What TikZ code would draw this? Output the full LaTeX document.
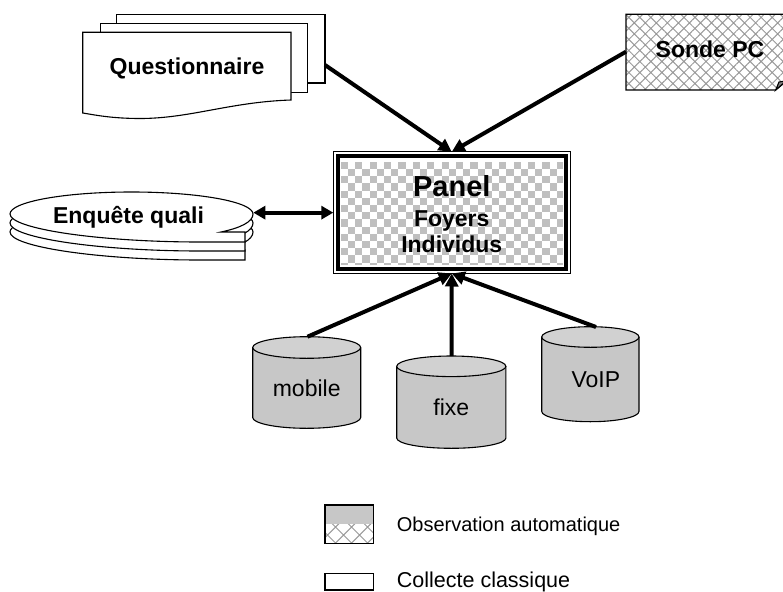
\documentclass[tikz,border=0pt]{standalone}
\usepackage{fontspec}
\setmainfont{Liberation Sans}
\usetikzlibrary{arrows.meta,patterns.meta}
\definecolor{cylgray}{gray}{0.78}
\definecolor{cyltop}{gray}{0.82}
\definecolor{chkgray}{gray}{0.75}
\definecolor{hatchgray}{gray}{0.60}
\tikzset{
  shp/.style={draw=black,line width=1.1pt},
  arr/.style={line width=4pt,-{Triangle[length=13pt,width=13pt]}},
  darr/.style={line width=4pt,{Triangle[length=12pt,width=13pt]}-{Triangle[length=12pt,width=13pt]}},
  bigtxt/.style={font=\fontsize{23}{26}\selectfont\bfseries,inner sep=0pt,anchor=base},
  cyltxt/.style={font=\fontsize{23}{26}\selectfont,inner sep=0pt,anchor=base},
  legtxt/.style={font=\fontsize{20}{22}\selectfont,inner sep=0pt,anchor=base west},
  hatchfine/.style={pattern={Hatch[angle=45,distance=7.8pt,line width=1pt]},pattern color=hatchgray},
  hatchbig/.style={pattern={Hatch[angle=45,distance=11.3pt,line width=1pt]},pattern color=hatchgray},
}
\newcommand\mycyl[6]{%
  \draw[shp,fill=cylgray] ({#2-#3},#4) -- ({#2-#3},#5)
    .. controls ({#2-#3},{#5+0.5523*#6}) and ({#2-0.5523*#3},{#5+#6}) .. (#2,{#5+#6})
    .. controls ({#2+0.5523*#3},{#5+#6}) and ({#2+#3},{#5+0.5523*#6}) .. ({#2+#3},#5)
    -- ({#2+#3},#4);
  \draw[shp,fill=cyltop] (#2,#4) ellipse [x radius=#3, y radius=#6];
}
\begin{document}
\begin{tikzpicture}[x=1pt,y=-1pt]
\useasboundingbox (0,0) rectangle (783,591);
\clip (0,0) rectangle (783,591);

% Questionnaire (multi-document)
\draw[shp,fill=white] (116.7,14.3) rectangle (325,83);
\draw[shp,fill=white] (100.7,23.3) rectangle (307.3,92.7);
\draw[shp,fill=white] (82.7,32.3) -- (291,32.3) -- (291,100)
  .. controls (230,102) and (190,118.5) .. (140,118.5)
  .. controls (112,118.5) and (95,115) .. (82.7,113) -- cycle;
\node[bigtxt] (quest) at (187,75) {Questionnaire};
\coordinate (questR) at (325,65);

% Sonde PC (note shape, cut at the right border)
\draw[shp,hatchfine] (626,14.3) -- (800,14.3) -- (800,70) -- (775.7,90) -- (626,90) -- cycle;
\filldraw[shp,fill=gray] (775.7,90) -- (786,81) -- (779,82) -- cycle;
\node[bigtxt] (sonde) at (710,57.3) {Sonde PC};
\coordinate (sondeL) at (626,51.7);

% Enquete quali (stacked ellipses)
\foreach \yc in {232,223,214}{
  \draw[shp,fill=white] (10,\yc)
    .. controls (10,{\yc-12.15}) and (64.4,{\yc-22}) .. (131.5,{\yc-22})
    .. controls (198.6,{\yc-22}) and (253,{\yc-12.15}) .. (253,\yc)
    .. controls (253,{\yc+8}) and (240,{\yc+14}) .. (221,{\yc+18})
    -- (245,{\yc+18}) -- (245,{\yc+28}) -- (200,{\yc+28})
    .. controls (100,{\yc+28}) and (10,{\yc+15}) .. (10,\yc) -- cycle;
}
\node[bigtxt] (enq) at (128.5,223.3) {Enquête quali};
\coordinate (enqR) at (253.3,212.65);

% Panel
\fill[white] (337,156) rectangle (566,269);
\begin{scope}
\clip (340.7,161.7) rectangle (562.8,264.6);
\foreach \i in {0,...,31}{
  \pgfmathtruncatemacro\off{mod(\i,2)}
  \foreach \j in {0,...,7}{
    \fill[chkgray] ({340.7+\i*7.2},{161.7+(2*\j+\off)*7.2}) rectangle ++(7.2,7.2);
  }
}
\end{scope}
\node[minimum width=236.5pt,minimum height=121.3pt,inner sep=0pt] (panel) at (451.75,212.65) {};
\draw[line width=1pt] (panel.north west) rectangle (panel.south east);
\draw[line width=4pt] ([xshift=4.3pt,yshift=-4.3pt]panel.north west) rectangle ([xshift=-4.3pt,yshift=4.3pt]panel.south east);
\node[font=\fontsize{29}{30}\selectfont\bfseries,inner sep=0pt,anchor=base] (ptitle) at (451.75,196.7) {Panel};
\node[bigtxt] (pfoy) at (451.75,226) {Foyers};
\node[bigtxt] (pind) at (451.75,252.7) {Individus};

% Cylinders
\mycyl{mob}{306.7}{54}{347.5}{417.5}{10.8}
\node[cyltxt] (mobtxt) at (306.7,396.7) {mobile};
\coordinate (mobT) at (307.5,336.7);
\mycyl{fix}{451.3}{54.6}{366.3}{438}{10.3}
\node[cyltxt] (fixtxt) at (451.3,415) {fixe};
\coordinate (fixT) at (451.5,356);
\mycyl{voip}{590.35}{48.65}{337}{411.4}{10.3}
\node[cyltxt] (voiptxt) at (595.8,387.7) {VoIP};
\coordinate (voipT) at (596,327);

% Connectors
\draw[arr] (questR) -- (panel.north);
\draw[arr] (sondeL) -- (panel.north);
\draw[darr] (enqR) -- (panel.west);
\draw[arr] (mobT) -- (panel.south);
\draw[arr] (fixT) -- (panel.south);
\draw[arr] (voipT) -- (panel.south);

% Legend
\fill[cylgray] (325,505) rectangle (373.3,524);
\fill[hatchbig] (325,524) rectangle (373.3,543.3);
\draw[shp] (325,505) rectangle (373.3,543.3);
\node[legtxt] (leg1) at (396.7,531.7) {Observation automatique};
\draw[shp,fill=white] (325,573.3) rectangle (373.3,590);
\node[legtxt,font=\fontsize{21.5}{24}\selectfont] (leg2) at (396.7,587) {Collecte classique};
\end{tikzpicture}
\end{document}
